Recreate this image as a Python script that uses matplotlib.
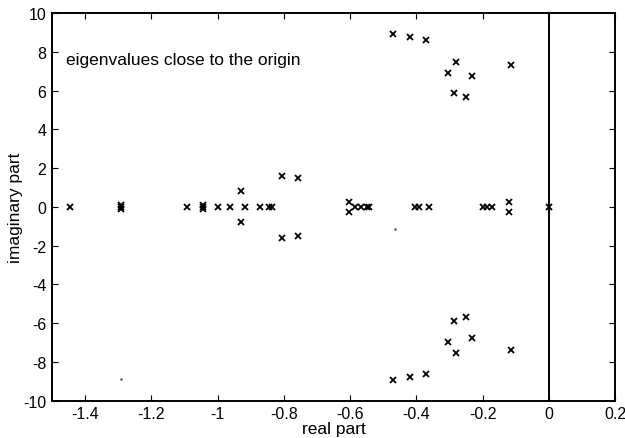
import numpy as np
from matplotlib import pyplot as plt

plt.rcParams['font.family'] = ['Liberation Sans', 'DejaVu Sans']
plt.rcParams['axes.unicode_minus'] = False

# eigenvalues (real part, imaginary part)
re_part = [-1.444, -1.292, -1.292, -1.292, -1.093, -1.044, -1.044, -1.044,
           -1.0, -0.961, -0.930, -0.930, -0.917, -0.873, -0.845, -0.834,
           -0.806, -0.806, -0.757, -0.757,
           -0.604, -0.604, -0.586, -0.566, -0.550, -0.543,
           -0.404, -0.392, -0.361, -0.200, -0.187, -0.172,
           -0.119, -0.119, 0.0,
           -0.470, -0.420, -0.372, -0.281, -0.304, -0.231, -0.285, -0.250, -0.113,
           -0.470, -0.420, -0.372, -0.285, -0.250, -0.304, -0.231, -0.281, -0.113]
im_part = [0.0, 0.0, 0.1, -0.1, 0.0, 0.0, 0.1, -0.1,
           0.0, 0.0, 0.8, -0.8, 0.0, 0.0, 0.0, 0.0,
           1.6, -1.6, 1.5, -1.5,
           0.25, -0.25, 0.0, 0.0, 0.0, 0.0,
           0.0, 0.0, 0.0, 0.0, 0.0, 0.0,
           0.25, -0.25, 0.0,
           8.93, 8.78, 8.62, 7.50, 6.92, 6.75, 5.88, 5.66, 7.34,
           -8.95, -8.79, -8.62, -5.90, -5.69, -6.95, -6.79, -7.53, -7.37]

# specks in the scan
speck_re = [-1.29, -0.465]
speck_im = [-8.9, -1.15]

xticks = [-1.4, -1.2, -1.0, -0.8, -0.6, -0.4, -0.2, 0.0, 0.2]
xticklabels = ['-1.4', '-1.2', '-1', '-0.8', '-0.6', '-0.4', '-0.2', '0', '0.2']
yticks = list(range(-10, 11, 2))


fig = plt.figure(figsize=(6.25, 4.39), dpi=100)
ax = fig.add_axes([0.083, 0.085, 0.901, 0.883])

ax.plot(re_part, im_part, 'x', color='k', ms=4.5, mew=1.3)
ax.plot(speck_re, speck_im, '.', color='0.3', ms=1.5)
ax.axvline(0, color='k', lw=1.4)

ax.set_xlim(-1.5, 0.2)
ax.set_ylim(-10, 10)
ax.set_xticks(xticks)
ax.set_xticklabels(xticklabels)
ax.set_yticks(yticks)
ax.tick_params(direction='in', top=True, right=True, labelsize=11.5, length=4, pad=4)
for s in ax.spines.values():
    s.set_linewidth(1.4)

ax.set_xlabel('real part', size=12.5, labelpad=0)
ax.set_ylabel('imaginary part', size=12.5, labelpad=0)
ax.text(-1.458, 7.6, 'eigenvalues close to the origin', size=12.5, va='center')

plt.savefig('out.png', dpi=100)
